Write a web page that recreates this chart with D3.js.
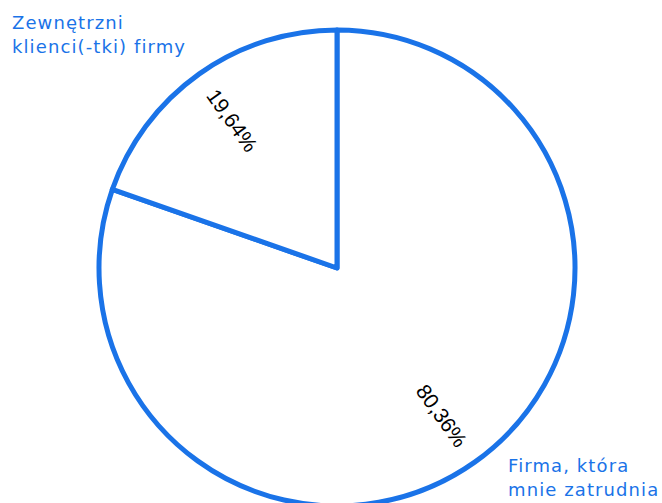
<!DOCTYPE html>
<html>
<head>
<meta charset="utf-8">
<script src="https://cdn.jsdelivr.net/npm/d3@7"></script>
<style>
  html, body { margin: 0; padding: 0; background: #fff; }
  svg { display: block; }
</style>
</head>
<body>
<div id="chart"></div>
<script>
// Share of answers: who the work is done for
const categories = ["Firma, która mnie zatrudnia", "Zewnętrzni klienci(-tki) firmy"];
const values = [80.36, 19.64];
const valueLabels = ["80,36%", "19,64%"];
const outerLabelLines = [["Firma, która", "mnie zatrudnia"], ["Zewnętrzni", "klienci(-tki) firmy"]];

const width = 662, height = 503;
const cx = 337, cy = 268, radius = 238;
const blue = "#1a73e8";

const svg = d3.select("#chart").append("svg")
  .attr("width", width)
  .attr("height", height);

const pie = d3.pie().sort(null).value(d => d)(values);
const arc = d3.arc().innerRadius(0).outerRadius(radius);
const labelRadius = 181;

const g = svg.append("g").attr("transform", `translate(${cx},${cy})`);

g.selectAll("path.slice")
  .data(pie)
  .join("path")
  .attr("class", "slice")
  .attr("d", arc)
  .attr("fill", "#fff")
  .attr("stroke", blue)
  .attr("stroke-width", 5)
  .attr("stroke-linejoin", "round");

// Percent labels, rotated along the radius of each slice
g.selectAll("text.value")
  .data(pie)
  .join("text")
  .attr("class", "value")
  .attr("transform", d => {
    const mid = (d.startAngle + d.endAngle) / 2;
    const x = Math.sin(mid) * labelRadius;
    const y = -Math.cos(mid) * labelRadius;
    let rot = mid * 180 / Math.PI - 90;
    if (rot > 90) rot -= 180;
    if (rot < -90) rot += 180;
    return `translate(${x},${y}) rotate(${rot})`;
  })
  .attr("text-anchor", "middle")
  .attr("dominant-baseline", "central")
  .attr("font-family", "'Liberation Sans', Arial, sans-serif")
  .attr("font-size", 21)
  .attr("fill", "#000")
  .text((d, i) => valueLabels[i]);

// Category labels in the corners
const outerPos = [
  { x: 508, y: 472 },
  { x: 12, y: 29 }
];
outerLabelLines.forEach((lines, i) => {
  const t = svg.append("text")
    .attr("x", outerPos[i].x)
    .attr("y", outerPos[i].y)
    .attr("font-family", "'DejaVu Sans', sans-serif")
    .attr("font-size", 18)
    .attr("letter-spacing", 1.1)
    .attr("fill", blue);
  lines.forEach((line, j) => {
    t.append("tspan")
      .attr("x", outerPos[i].x)
      .attr("dy", j === 0 ? 0 : 24)
      .text(line);
  });
});
</script>
</body>
</html>
